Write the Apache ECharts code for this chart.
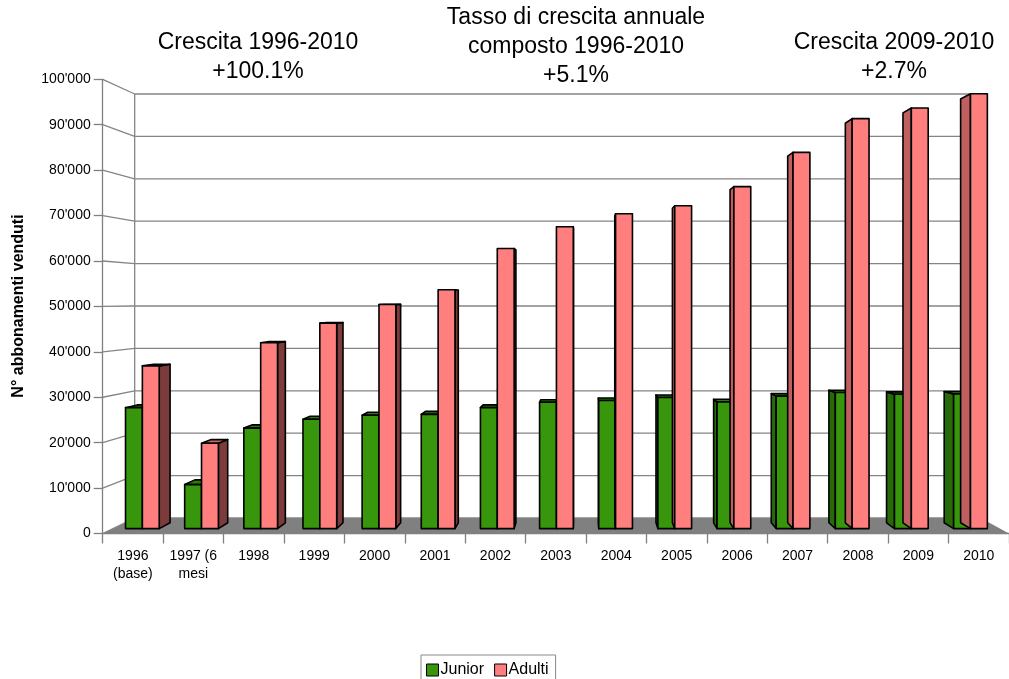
<!DOCTYPE html>
<html>
<head>
<meta charset="utf-8">
<script src="https://cdn.jsdelivr.net/npm/echarts@6/dist/echarts.min.js"></script>
<style>
  html, body { margin: 0; padding: 0; background: #fff; }
  #chart { width: 1009px; height: 679px; }
</style>
</head>
<body>
<div id="chart"></div>
<script>
// Season passes sold per year
const YEARS = ['1996\n(base)', '1997 (6\nmesi', '1998', '1999', '2000', '2001', '2002', '2003',
               '2004', '2005', '2006', '2007', '2008', '2009', '2010'];
const JUNIOR = [27200, 9900, 22600, 24600, 25500, 25700, 27200, 28400, 28800, 29500, 28500, 29800, 30600, 30200, 30300];
const ADULTI = [36600, 19200, 41800, 46200, 50400, 53700, 63000, 67900, 70800, 72600, 76900, 84600, 92200, 94600, 97800];
const Y_TICKS = [0, 10000, 20000, 30000, 40000, 50000, 60000, 70000, 80000, 90000, 100000];
const SERIES_NAMES = ['Junior', 'Adulti'];

const FONT = '"Liberation Sans", Arial, Helvetica, sans-serif';

// Perspective set-up: the grid is the front plane; depth is a scale factor towards the eye point
const EYE_CAT = 7.46;        // eye position along the category axis (in bands from the first centre)
const EYE_VALUE = 51300;     // eye height in axis units
const DEPTH = { barFront: 0.979, barBack: 0.954, wall: 0.9335 };
const BAR_FRACTION = 0.285;  // width of one bar as a fraction of a category band

const COLORS = {
  junior: { front: '#38960c', side: '#276a08', top: '#2d7a0a' },
  adulti: { front: '#ff7f7f', right: '#7d3c3c', left: '#c05f5f', top: '#cc6666' },
  grid: '#858585',
  floor: '#808080'
};

function eyePoint(api) {
  const band = api.size([1, 0])[0];
  const c0 = api.coord([0, EYE_VALUE]);
  return { x: c0[0] + EYE_CAT * band, y: c0[1], band: band };
}
function proj(eye, x, y, s) {
  return [eye.x + (x - eye.x) * s, eye.y + (y - eye.y) * s];
}

// Back wall, left wall and floor, one tick value per item
function renderWalls(params, api) {
  const eye = eyePoint(api);
  const v = api.value(1);
  const cs = params.coordSys;
  const xL = cs.x, xR = cs.x + cs.width;
  const yF = api.coord([0, v])[1];
  const lineStyle = { stroke: COLORS.grid, lineWidth: 1.3 };
  const children = [];
  if (v === Y_TICKS[0]) {
    const yTop = api.coord([0, Y_TICKS[Y_TICKS.length - 1]])[1];
    const pts = [proj(eye, xL, yF, 1), proj(eye, xR, yF, 1), proj(eye, xR, yF, DEPTH.wall), proj(eye, xL, yF, DEPTH.wall)];
    children.push({ type: 'polygon', shape: { points: pts }, style: { fill: COLORS.floor } });
    const b0 = proj(eye, xL, yF, DEPTH.wall), b1 = proj(eye, xL, yTop, DEPTH.wall);
    children.push({ type: 'line', shape: { x1: b0[0], y1: b0[1], x2: b1[0], y2: b1[1] }, style: lineStyle });
  }
  const a = proj(eye, xL, yF, 1), b = proj(eye, xL, yF, DEPTH.wall), c = proj(eye, xR, yF, DEPTH.wall);
  children.push({ type: 'line', shape: { x1: a[0], y1: a[1], x2: b[0], y2: b[1] }, style: lineStyle });
  children.push({ type: 'line', shape: { x1: b[0], y1: b[1], x2: c[0], y2: c[1] }, style: lineStyle });
  return { type: 'group', children: children };
}

// One 3D bar: front face, visible side face and (below eye level) top face
function makeBarRenderer(slot, palette) {
  return function (params, api) {
    const eye = eyePoint(api);
    const i = api.value(0), v = api.value(1);
    const base = api.coord([i, 0]);
    const topY = api.coord([i, v])[1];
    const w = eye.band * BAR_FRACTION;
    const xl = base[0] + (slot === 0 ? -w : 0);
    const xr = xl + w;
    const y0 = base[1];
    const s1 = DEPTH.barFront, s2 = DEPTH.barBack;
    const edge = { stroke: '#000', lineWidth: 1.6, lineJoin: 'round' };
    const children = [];
    if (xr < eye.x) {
      children.push({ type: 'polygon', shape: { points: [proj(eye, xr, y0, s1), proj(eye, xr, topY, s1), proj(eye, xr, topY, s2), proj(eye, xr, y0, s2)] },
        style: Object.assign({ fill: palette.right || palette.side }, edge) });
    } else if (xl > eye.x) {
      children.push({ type: 'polygon', shape: { points: [proj(eye, xl, y0, s1), proj(eye, xl, topY, s1), proj(eye, xl, topY, s2), proj(eye, xl, y0, s2)] },
        style: Object.assign({ fill: palette.left || palette.side }, edge) });
    }
    if (topY > eye.y) {
      children.push({ type: 'polygon', shape: { points: [proj(eye, xl, topY, s1), proj(eye, xr, topY, s1), proj(eye, xr, topY, s2), proj(eye, xl, topY, s2)] },
        style: Object.assign({ fill: palette.top }, edge) });
    }
    children.push({ type: 'polygon', shape: { points: [proj(eye, xl, y0, s1), proj(eye, xr, y0, s1), proj(eye, xr, topY, s1), proj(eye, xl, topY, s1)] },
      style: Object.assign({ fill: palette.front }, edge) });
    return { type: 'group', children: children };
  };
}

const chart = echarts.init(document.getElementById('chart'), null, { renderer: 'canvas' });

chart.setOption({
  animation: false,
  backgroundColor: '#fff',
  textStyle: { fontFamily: FONT },
  grid: { left: 102.7, top: 79.3, width: 908.6, height: 454.2 },
  xAxis: {
    type: 'category',
    data: YEARS,
    boundaryGap: true,
    z: 5,
    axisLine: { show: true, lineStyle: { color: '#808080', width: 1.3 } },
    axisTick: { show: true, length: 10, lineStyle: { color: '#808080', width: 1.3 } },
    axisLabel: { color: '#000', fontSize: 14, lineHeight: 18, margin: 14, fontFamily: FONT, interval: 0 },
    splitLine: { show: false }
  },
  yAxis: {
    type: 'value',
    min: 0, max: 100000, interval: 10000,
    z: 5,
    axisLine: { show: true, lineStyle: { color: '#808080', width: 1.3 } },
    axisTick: { show: true, length: 9, lineStyle: { color: '#808080', width: 1.3 } },
    axisLabel: {
      color: '#000', fontSize: 14, margin: 12, fontFamily: FONT,
      formatter: function (v) { return v === 0 ? '0' : (v / 1000) + "'000"; }
    },
    splitLine: { show: false }
  },
  legend: {
    data: [
      { name: SERIES_NAMES[0], itemStyle: { color: COLORS.junior.front, borderColor: '#000', borderWidth: 1 } },
      { name: SERIES_NAMES[1], itemStyle: { color: COLORS.adulti.front, borderColor: '#000', borderWidth: 1 } }
    ],
    icon: 'rect',
    left: 421, top: 655,
    itemWidth: 12, itemHeight: 12, itemGap: 10,
    borderColor: '#8a8a8a', borderWidth: 1,
    padding: [7, 7, 6, 5],
    textStyle: { fontSize: 16, color: '#000', fontFamily: FONT, padding: [0, 0, 0, -3] }
  },
  graphic: [
    { type: 'text', x: 258, y: 28.5, style: { text: 'Crescita 1996-2010\n+100.1%', fontSize: 23, fontFamily: FONT, fill: '#000', align: 'center', verticalAlign: 'top', lineHeight: 29 } },
    { type: 'text', x: 576, y: 3.5, style: { text: 'Tasso di crescita annuale\ncomposto 1996-2010\n+5.1%', fontSize: 23, fontFamily: FONT, fill: '#000', align: 'center', verticalAlign: 'top', lineHeight: 29 } },
    { type: 'text', x: 894, y: 28.5, style: { text: 'Crescita 2009-2010\n+2.7%', fontSize: 23, fontFamily: FONT, fill: '#000', align: 'center', verticalAlign: 'top', lineHeight: 29 } },
    { type: 'text', x: 19, y: 306, rotation: Math.PI / 2, style: { text: 'N° abbonamenti venduti', fontSize: 16, fontWeight: 'bold', fontFamily: FONT, fill: '#000', align: 'center', verticalAlign: 'middle' } }
  ],
  series: [
    {
      type: 'custom', name: 'walls', silent: true, clip: false,
      renderItem: renderWalls,
      encode: { x: 0, y: 1 },
      data: Y_TICKS.map(function (v) { return [0, v]; }),
      z: 1
    },
    {
      type: 'custom', name: SERIES_NAMES[0], clip: false,
      itemStyle: { color: COLORS.junior.front },
      renderItem: makeBarRenderer(0, COLORS.junior),
      encode: { x: 0, y: 1 },
      data: JUNIOR.map(function (v, i) { return [i, v]; }),
      z: 2
    },
    {
      type: 'custom', name: SERIES_NAMES[1], clip: false,
      itemStyle: { color: COLORS.adulti.front },
      renderItem: makeBarRenderer(1, COLORS.adulti),
      encode: { x: 0, y: 1 },
      data: ADULTI.map(function (v, i) { return [i, v]; }),
      z: 3
    }
  ]
});
</script>
</body>
</html>
